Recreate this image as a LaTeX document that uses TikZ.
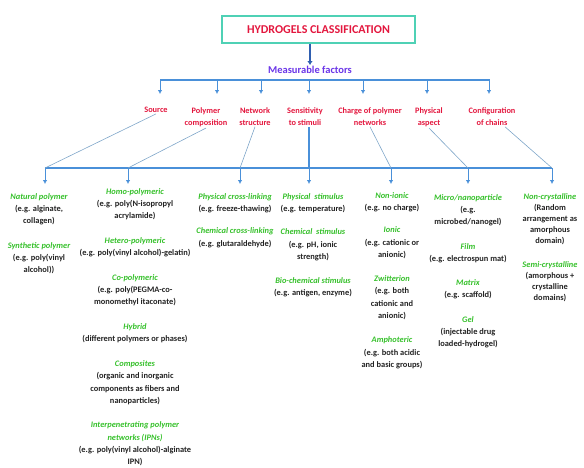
\documentclass[tikz,border=0pt]{standalone}
\usepackage{fontspec}
\setmainfont{Carlito}
\usepackage{tikz}
\usetikzlibrary{arrows.meta}
\definecolor{titlered}{HTML}{E3173E}
\definecolor{boxmint}{HTML}{4FD1B5}
\definecolor{barblue}{HTML}{4A90D9}
\definecolor{darkblue}{HTML}{2F5FB0}
\definecolor{factorviolet}{HTML}{6A35E8}
\definecolor{itemgreen}{HTML}{35C02A}
\definecolor{linkgrey}{HTML}{7FA6C9}
\definecolor{exblack}{HTML}{222222}
\newcommand{\itm}[1]{{\color{itemgreen}\itshape #1}}

\begin{document}
\begin{tikzpicture}[x=1pt,y=-1pt]
\tikzstyle{every node}=[inner sep=1pt]
\tikzstyle{catlabel}=[anchor=north,align=center,text=titlered,font=\fontsize{8.3}{12.5}\selectfont\bfseries]
\tikzstyle{column}=[anchor=north,align=center,text=exblack,font=\fontsize{8.4}{12.3}\selectfont\bfseries]
\tikzstyle{bar}=[barblue,line width=1.6pt]
\tikzstyle{bararrow}=[barblue,line width=1pt,-{Latex[length=4pt,width=4.5pt]}]
\tikzstyle{link}=[linkgrey,line width=0.6pt]
\useasboundingbox (0,0) rectangle (584,467);

\node[draw=boxmint,line width=1.2pt,minimum width=193pt,minimum height=27pt,text=titlered,
  font=\fontsize{12}{14}\selectfont\bfseries] (title) at (318.5,29.5) {HYDROGELS CLASSIFICATION};
\node[text=factorviolet,font=\fontsize{10.5}{12}\selectfont\bfseries] (meas) at (310,70) {Measurable factors};
\draw[darkblue,line width=2pt,-{Latex[length=4pt,width=5.5pt]}] (meas.north |- title.south) -- (meas.north);

% measurable factors
\node[catlabel] (src) at (156,106) {Source};
\node[catlabel] (comp) at (206,106) {Polymer\\composition};
\node[catlabel] (net) at (255,106) {Network\\structure};
\node[catlabel] (sens) at (305,106) {Sensitivity\\to stimuli};
\node[catlabel] (chg) at (370,106) {Charge of polymer\\networks};
\node[catlabel] (phys) at (429,106) {Physical\\aspect};
\node[catlabel] (conf) at (492,106) {Configuration\\of chains};

\coordinate (ta) at (160,80);
\coordinate (tb) at (490,80);
\draw[bar] (ta) -- (tb);
\foreach \x/\n in {160/src,217/comp,261/net,309/sens,363/chg,427/phys,489/conf}{
  \coordinate (t\n) at (\x,80);
  \draw[bararrow,shorten >=12pt] (t\n) -- (t\n |- \n.north);
}

% classes
\node[column] (c1) at (39,192) {\itm{Natural polymer}\\(e.g. alginate,\\collagen)\\[12pt]
  \itm{Synthetic polymer}\\(e.g. poly(vinyl\\alcohol))};
\node[column] (c2) at (135,187) {\itm{Homo-polymeric}\\(e.g. poly(N-isopropyl\\acrylamide)\\[12pt]
  \itm{Hetero-polymeric}\\(e.g. poly(vinyl alcohol)-gelatin)\\[12.5pt]
  \itm{Co-polymeric}\\(e.g. poly(PEGMA-co-\\monomethyl itaconate)\\[12.5pt]
  \itm{Hybrid}\\(different polymers or phases)\\[12.5pt]
  \itm{Composites}\\(organic and inorganic\\components as fibers and\\nanoparticles)\\[12pt]
  \itm{Interpenetrating polymer}\\\itm{networks (IPNs)}\\(e.g. poly(vinyl alcohol)-alginate\\IPN)};
\node[column] (c3) at (235,192) {\itm{Physical cross-linking}\\(e.g. freeze-thawing)\\[10pt]
  \itm{Chemical cross-linking}\\(e.g. glutaraldehyde)};
\node[column] (c4) at (313,192) {\itm{Physical\ \ stimulus}\\(e.g. temperature)\\[11pt]
  \itm{Chemical\ \ stimulus}\\(e.g. pH, ionic\\strength)\\[12pt]
  \itm{Bio-chemical stimulus}\\(e.g. antigen, enzyme)};
\node[column] (c5) at (392,191) {\itm{Non-ionic}\\(e.g. no charge)\\[10pt]
  \itm{Ionic}\\(e.g. cationic or\\anionic)\\[12pt]
  \itm{Zwitterion}\\(e.g. both\\cationic and\\anionic)\\[12pt]
  \itm{Amphoteric}\\(e.g. both acidic\\and basic groups)};
\node[column] (c6) at (468,193) {\itm{Micro/nanoparticle}\\(e.g.\\microbed/nanogel)\\[12pt]
  \itm{Film}\\(e.g. electrospun mat)\\[12pt]
  \itm{Matrix}\\(e.g. scaffold)\\[12pt]
  \itm{Gel}\\(injectable drug\\loaded-hydrogel)};
\node[column,font=\fontsize{8.4}{11}\selectfont\bfseries] (c7) at (550,192) {\itm{Non-crystalline}\\(Random\\arrangement as\\amorphous\\domain)\\[13pt]
  \itm{Semi-crystalline}\\(amorphous +\\crystalline\\domains)};

\foreach \x [count=\i] in {45,128,240,309,391,468,552}{
  \coordinate (b\i) at (\x,168);
}
\draw[bar] (b1) -- (b7);
\foreach \i in {1,...,7}{
  \draw[bararrow,shorten >=8pt] (b\i) -- (b\i |- c1.north);
}

\draw[link] (src.south) -- (b1);
\draw[link] (comp.south) -- (b2);
\draw[link] (net.south) -- (b3);
\draw[bar,line width=1.2pt] (b4 |- sens.south) -- (b4);
\draw[link] (chg.south) -- (b5);
\draw[link] (phys.south) -- (b6);
\draw[link] ([xshift=13pt]conf.south) -- (b7);
\end{tikzpicture}
\end{document}
